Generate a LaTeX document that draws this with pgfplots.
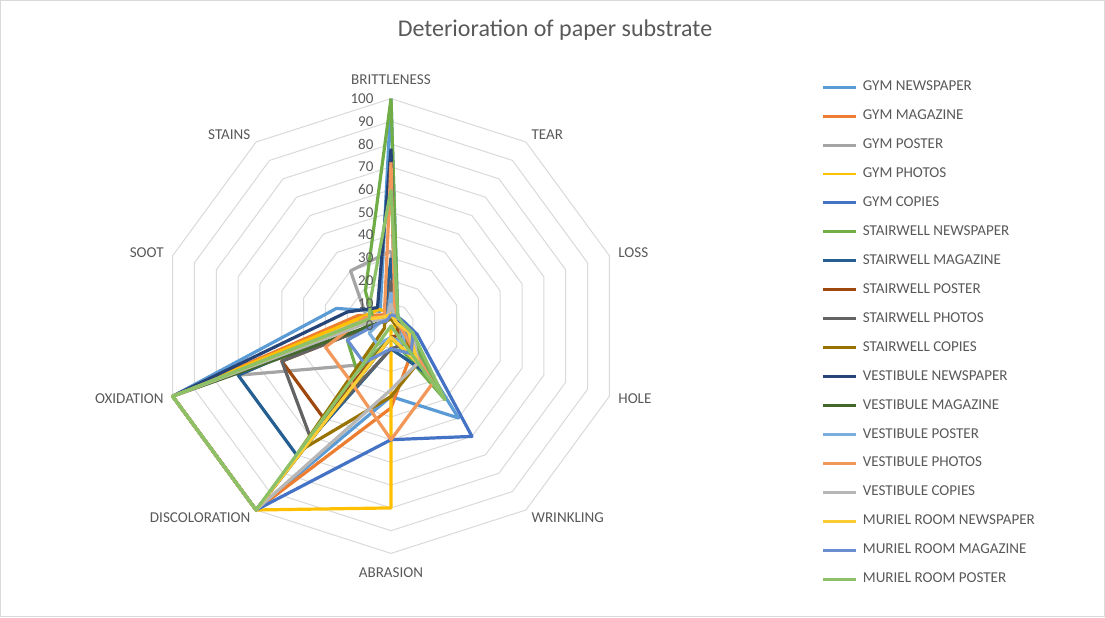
\documentclass[border=0pt]{standalone}
\usepackage{fontspec}
\setmainfont{Carlito}
\usepackage{pgfplots}
\usepackage{pgfplotstable}
\pgfplotsset{compat=1.18}

\definecolor{txt}{HTML}{595959}
\definecolor{gridc}{HTML}{D9D9D9}
\definecolor{c1}{HTML}{5B9BD5}
\definecolor{c2}{HTML}{ED7D31}
\definecolor{c3}{HTML}{A5A5A5}
\definecolor{c4}{HTML}{FFC000}
\definecolor{c5}{HTML}{4472C4}
\definecolor{c6}{HTML}{70AD47}
\definecolor{c7}{HTML}{255E91}
\definecolor{c8}{HTML}{9E480E}
\definecolor{c9}{HTML}{636363}
\definecolor{c10}{HTML}{997300}
\definecolor{c11}{HTML}{264478}
\definecolor{c12}{HTML}{43682B}
\definecolor{c13}{HTML}{7CAFDD}
\definecolor{c14}{HTML}{F1975A}
\definecolor{c15}{HTML}{B7B7B7}
\definecolor{c16}{HTML}{FFCD33}
\definecolor{c17}{HTML}{698ED0}
\definecolor{c18}{HTML}{8CC168}

\tikzset{lbl/.style={font=\fontsize{11.3}{13}\selectfont, text=txt, inner sep=0pt}}

% k: 0 BRITTLENESS, 1 TEAR, 2 LOSS, 3 HOLE, 4 WRINKLING, 5 ABRASION,
%    6 DISCOLORATION, 7 OXIDATION, 8 SOOT, 9 STAINS, 10 = 0 (closes the shape)
\pgfplotstableread{
k  s1  s2  s3  s4  s5  s6  s7  s8  s9  s10 s11 s12 s13 s14 s15 s16 s17 s18
0  100 8   33  6   8   100 30  5   20  3   78  5   15  72  10  5   5   60
1  5   3   2   3   5   5   3   2   3   2   3   3   3   3   3   3   5   5
2  5   3   2   3   6   5   3   3   3   2   4   3   3   3   3   3   5   5
3  6   5   3   5   12  8   5   3   5   5   5   5   5   5   10  8   10  10
4  50  15  8   0   60  40  25  5   10  20  10  10  10  31  20  20  15  40
5  31  36  5   80  50  5   10  5   10  31  5   5   5   50  28  5   10  0
6  100 100 21  100 100 25  70  50  60  68  100 100 10  30  100 100 20  100
7  100 100 70  100 100 20  70  50  50  3   100 100 10  30  100 100 20  100
8  25  15  11  13  10  8   10  5   5   3   20  5   5   12  8   10  5   10
9  8   6   30  9   5   19  5   3   3   3   10  3   3   5   3   5   3   15
10 100 8   33  6   8   100 30  5   20  3   78  5   15  72  10  5   5   60
}\data

\newcommand{\ringplot}[1]{\addplot[gridc, line width=0.75pt, forget plot] table[x expr={#1*sin(36*\thisrow{k})}, y expr={#1*cos(36*\thisrow{k})}] {\data};}
\newcommand{\radar}[3]{\addplot[color=#2, line width=2.4pt, line join=round] table[x expr={\thisrow{#1}*sin(36*\thisrow{k})}, y expr={\thisrow{#1}*cos(36*\thisrow{k})}] {\data};
\addlegendentry{#3}}

\begin{document}
\begin{tikzpicture}[x=1pt,y=1pt]
\useasboundingbox (0,0) rectangle (828.75,-462.75);
\draw[gridc, line width=0.75pt] (0.6,-0.6) rectangle (828.15,-462.15);
\node[font=\fontsize{18}{21}\selectfont, text=txt] at (416.25,-22.5) {Deterioration of paper substrate};
\begin{axis}[
  at={(293.25pt,-244.5pt)}, anchor=center,
  x=1.722pt, y=1.7055pt,
  xmin=-110, xmax=110, ymin=-110, ymax=110,
  hide axis, clip=false,
  legend cell align=left,
  legend image code/.code={\draw[#1, line width=2.2pt] (0pt,0pt) -- (24.75pt,0pt);},
  legend style={at={(axis cs:187.7,108.1)}, anchor=north west, draw=none, fill=none,
    inner sep=0pt, outer sep=0pt, row sep=11.2pt, column sep=3.75pt,
    font=\fontsize{11.3}{13}\selectfont, text=txt,
    nodes={inner sep=0pt, text height=8pt, text depth=2.5pt}},
]
\ringplot{10}\ringplot{20}\ringplot{30}\ringplot{40}\ringplot{50}
\ringplot{60}\ringplot{70}\ringplot{80}\ringplot{90}\ringplot{100}

\radar{s1}{c1}{GYM NEWSPAPER}
\radar{s2}{c2}{GYM MAGAZINE}
\radar{s3}{c3}{GYM POSTER}
\radar{s4}{c4}{GYM PHOTOS}
\radar{s5}{c5}{GYM COPIES}
\radar{s6}{c6}{STAIRWELL NEWSPAPER}
\radar{s7}{c7}{STAIRWELL MAGAZINE}
\radar{s8}{c8}{STAIRWELL POSTER}
\radar{s9}{c9}{STAIRWELL PHOTOS}
\radar{s10}{c10}{STAIRWELL COPIES}
\radar{s11}{c11}{VESTIBULE NEWSPAPER}
\radar{s12}{c12}{VESTIBULE MAGAZINE}
\radar{s13}{c13}{VESTIBULE POSTER}
\radar{s14}{c14}{VESTIBULE PHOTOS}
\radar{s15}{c15}{VESTIBULE COPIES}
\radar{s16}{c16}{MURIEL ROOM NEWSPAPER}
\radar{s17}{c17}{MURIEL ROOM MAGAZINE}
\radar{s18}{c18}{MURIEL ROOM POSTER}

\node[lbl, anchor=east] at (axis cs:-7.5,0) {0};
\node[lbl, anchor=east] at (axis cs:-7.5,10) {10};
\node[lbl, anchor=east] at (axis cs:-7.5,20) {20};
\node[lbl, anchor=east] at (axis cs:-7.5,30) {30};
\node[lbl, anchor=east] at (axis cs:-7.5,40) {40};
\node[lbl, anchor=east] at (axis cs:-7.5,50) {50};
\node[lbl, anchor=east] at (axis cs:-7.5,60) {60};
\node[lbl, anchor=east] at (axis cs:-7.5,70) {70};
\node[lbl, anchor=east] at (axis cs:-7.5,80) {80};
\node[lbl, anchor=east] at (axis cs:-7.5,90) {90};
\node[lbl, anchor=east] at (axis cs:-7.5,100) {100};

\node[lbl, anchor=south] at (axis cs:0,106) {BRITTLENESS};
\node[lbl, anchor=west] at (axis cs:61.13,84.14) {TEAR};
\node[lbl, anchor=west] at (axis cs:98.91,32.14) {LOSS};
\node[lbl, anchor=west] at (axis cs:98.91,-32.14) {HOLE};
\node[lbl, anchor=west] at (axis cs:61.13,-84.14) {WRINKLING};
\node[lbl, anchor=north] at (axis cs:0,-106) {ABRASION};
\node[lbl, anchor=east] at (axis cs:-61.13,-84.14) {DISCOLORATION};
\node[lbl, anchor=east] at (axis cs:-98.91,-32.14) {OXIDATION};
\node[lbl, anchor=east] at (axis cs:-98.91,32.14) {SOOT};
\node[lbl, anchor=east] at (axis cs:-61.13,84.14) {STAINS};
\end{axis}
\end{tikzpicture}
\end{document}
